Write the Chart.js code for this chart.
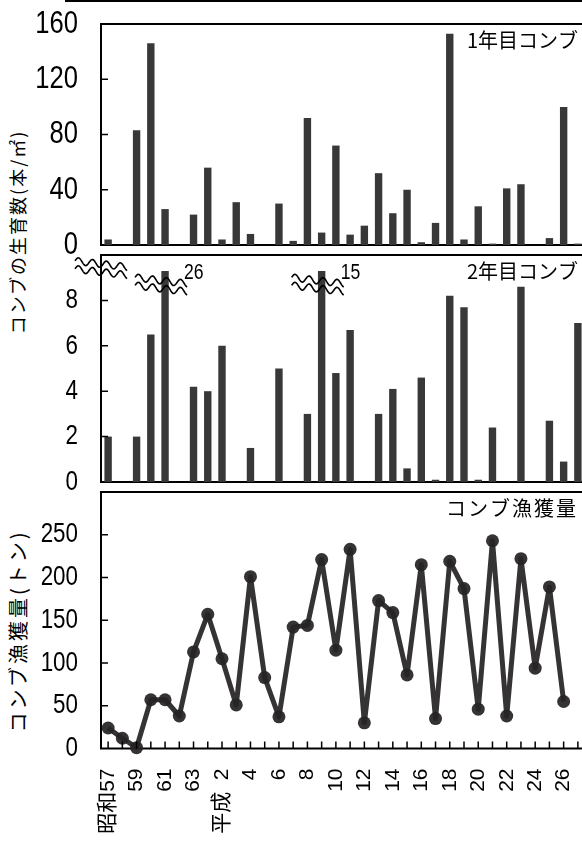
<!DOCTYPE html>
<html lang="ja">
<head>
<meta charset="utf-8">
<title>コンブの生育数と漁獲量</title>
<script src="https://cdn.jsdelivr.net/npm/chart.js@4.4.1/dist/chart.umd.min.js"></script>
<style>
  html, body { margin: 0; padding: 0; background: #fff; }
  body { width: 582px; height: 844px; overflow: hidden; position: relative; font-family: 'Noto Sans CJK JP', sans-serif; }
  .panel { position: absolute; left: 0; width: 600px; }
  .panel canvas { display: block; }
  #topRule { position: absolute; top: 0; left: 65px; width: 540px; height: 2px; background: #000; }
  .axis-title { position: absolute; white-space: nowrap; color: #000; transform: translate(-50%, -50%) rotate(-90deg); }
</style>
</head>
<body>
<div id="topRule"></div>
<div class="axis-title" style="left:17px;top:232px;font-size:18px;letter-spacing:2px">コンブの生育数(本/㎡)</div>
<div class="axis-title" style="left:17px;top:631px;font-size:20px;letter-spacing:3px">コンブ漁獲量(トン)</div>
<div class="panel" style="top:0"><canvas id="firstYearChart" width="600" height="265"></canvas></div>
<div class="panel" style="top:238px"><canvas id="secondYearChart" width="600" height="260"></canvas></div>
<div class="panel" style="top:472px"><canvas id="catchChart" width="600" height="372"></canvas></div>
<script>
// 昭和57年 (1982) から 平成27年 (2015) まで
const yearLabels = ['昭和57', '58', '59', '60', '61', '62', '63', '元', '平成  2', '3', '4', '5', '6', '7', '8', '9',
    '10', '11', '12', '13', '14', '15', '16', '17', '18', '19', '20', '21', '22', '23', '24', '25', '26', '27'];

// 1年目コンブ (本/㎡), null = 調査なし
const firstYear = [4, null, 83, 146, 26, null, 22, 56, 4, 31, 8, null, 30, 3, 92, 9,
    72, 7.5, 14, 52, 23, 40, 2, 16, 153, 4, 28, 1, 41, 44, null, 5, 100, 1];

// 2年目コンブ (本/㎡)
const secondYear = [2.0, null, 2.0, 6.5, 26, null, 4.2, 4.0, 6.0, null, 1.5, null, 5.0, null, 3.0, 15,
    4.8, 6.7, null, 3.0, 4.1, 0.6, 4.6, 0.1, 8.2, 7.7, 0.1, 2.4, null, 8.6, null, 2.7, 0.9, 7.0];

// コンブ漁獲量 (トン)
const catchTons = [24, 12, 1, 57, 57, 38, 113, 157, 105, 51, 201, 83, 37, 142, 144, 221,
    115, 233, 30, 173, 159, 86, 215, 35, 219, 187, 46, 243, 38, 222, 94, 189, 55, null];

const barColor = '#383838';
const lineColor = 'rgba(38, 35, 35, 0.93)';
const numberFont = "'Liberation Sans', Arial, sans-serif";
const labelFont = "'Noto Sans CJK JP', sans-serif";

Chart.defaults.color = '#000';
Chart.defaults.font.family = numberFont;
Chart.defaults.animation = false;

// box around the plot area
const framePlugin = {
    id: 'frame',
    beforeDatasetsDraw(chart) {
        const { ctx, chartArea: a } = chart;
        ctx.save();
        ctx.strokeStyle = '#000';
        ctx.lineWidth = 2;
        ctx.strokeRect(a.left, a.top, a.right - a.left, a.bottom - a.top);
        ctx.restore();
    }
};

// tick marks that point into the plot
const innerTicksPlugin = {
    id: 'innerTicks',
    afterDraw(chart, args, opts) {
        const { ctx, chartArea: a, scales } = chart;
        ctx.save();
        ctx.strokeStyle = '#000';
        ctx.lineWidth = 1.5;
        ctx.beginPath();
        scales.y.ticks.forEach(t => {
            if (t.value <= scales.y.min || t.value >= scales.y.max) return;
            const y = scales.y.getPixelForValue(t.value);
            ctx.moveTo(a.left, y);
            ctx.lineTo(a.left + 7, y);
        });
        if (opts.xTicks) {
            scales.x.ticks.forEach((t, i) => {
                const x = scales.x.getPixelForTick(i);
                ctx.moveTo(x, a.bottom);
                ctx.lineTo(x, a.bottom - 7);
            });
        }
        ctx.stroke();
        ctx.restore();
    }
};

// narrow text: squeeze horizontally around the anchor point
function narrowText(ctx, text, x, y, size, align) {
    ctx.save();
    ctx.font = size + 'px ' + numberFont;
    ctx.fillStyle = '#000';
    ctx.textAlign = align;
    ctx.textBaseline = 'middle';
    ctx.translate(x, y);
    ctx.scale(0.8, 1);
    ctx.fillText(text, 0, 0);
    ctx.restore();
}

// y tick labels in a condensed face, taken from the scale's own ticks
const yLabelsPlugin = {
    id: 'yLabels',
    afterDraw(chart, args, opts) {
        const { ctx, chartArea: a, scales } = chart;
        scales.y.ticks.forEach(t => {
            if (t.value > opts.last) return;
            narrowText(ctx, String(t.value), a.left - 23, scales.y.getPixelForValue(t.value), opts.size, 'right');
        });
    }
};

// series name in the upper right corner
const panelLabelPlugin = {
    id: 'panelLabel',
    afterDraw(chart, args, opts) {
        const { ctx, chartArea: a } = chart;
        ctx.save();
        ctx.font = '20px ' + labelFont;
        ctx.letterSpacing = (opts.spacing || 0) + 'px';
        ctx.fillStyle = '#000';
        ctx.textAlign = 'right';
        ctx.textBaseline = 'middle';
        ctx.fillText(opts.text, a.right - 7, a.top + 16);
        ctx.restore();
    }
};

function wave(ctx, cx, cy, len, amp, period, slope) {
    ctx.beginPath();
    for (let d = 0; d <= len; d++) {
        const x = cx - len / 2 + d;
        const y = cy + slope * (d - len / 2) - amp * Math.sin(d / period * Math.PI * 2);
        if (d === 0) ctx.moveTo(x, y); else ctx.lineTo(x, y);
    }
    ctx.stroke();
}

function breakMark(ctx, cx, cy) {
    ctx.save();
    ctx.strokeStyle = '#000';
    ctx.lineWidth = 1.6;
    wave(ctx, cx, cy - 4, 52, 3.5, 14, 0.12);
    wave(ctx, cx, cy + 4, 52, 3.5, 14, 0.12);
    ctx.restore();
}

// wavy marks for the axis break and for bars that run off the scale
const axisBreakPlugin = {
    id: 'axisBreak',
    afterDraw(chart) {
        const { ctx, chartArea: a, scales } = chart;
        const meta = chart.getDatasetMeta(0);
        const yMax = scales.y.max;
        breakMark(ctx, a.left, a.top + 13);
        secondYear.forEach((v, i) => {
            if (v === null || v <= yMax) return;
            const bar = meta.data[i];
            breakMark(ctx, bar.x - 4, scales.y.getPixelForValue(8.7));
            narrowText(ctx, String(v), bar.x + 19, a.top + 18, 22, 'left');
        });
    }
};

function fixedWidthY(scale) {
    scale.width = 101;
    scale.paddingTop = 0;
    scale.paddingBottom = 0;
}

function valueAxis(max, step) {
    return {
        min: 0,
        max: max,
        afterFit: fixedWidthY,
        border: { display: false },
        grid: { display: false, drawTicks: false },
        ticks: { stepSize: step, display: false }
    };
}

function renderFirstYearChart() {
    const ctx = document.getElementById('firstYearChart').getContext('2d');
    new Chart(ctx, {
        type: 'bar',
        data: {
            labels: yearLabels,
            datasets: [{
                data: firstYear,
                backgroundColor: barColor,
                barPercentage: 0.52,
                categoryPercentage: 1
            }]
        },
        options: {
            responsive: false,
            layout: { padding: { top: 24, bottom: 20, right: 15, left: 0 } },
            plugins: {
                legend: { display: false },
                tooltip: { enabled: false },
                panelLabel: { text: '1年目コンブ' },
                yLabels: { size: 32, last: 160 }
            },
            scales: {
                x: { display: false },
                y: valueAxis(160, 40)
            }
        },
        plugins: [framePlugin, innerTicksPlugin, yLabelsPlugin, panelLabelPlugin]
    });
}

function renderSecondYearChart() {
    const ctx = document.getElementById('secondYearChart').getContext('2d');
    new Chart(ctx, {
        type: 'bar',
        data: {
            labels: yearLabels,
            datasets: [{
                data: secondYear,
                backgroundColor: barColor,
                barPercentage: 0.52,
                categoryPercentage: 1,
                // bars above the scale stop a little under the frame
                clip: { left: 0, top: -16, right: 0, bottom: 0 }
            }]
        },
        options: {
            responsive: false,
            layout: { padding: { top: 17, bottom: 16, right: 15, left: 0 } },
            plugins: {
                legend: { display: false },
                tooltip: { enabled: false },
                panelLabel: { text: '2年目コンブ' },
                yLabels: { size: 28, last: 8 }
            },
            scales: {
                x: { display: false },
                y: valueAxis(10, 2)
            }
        },
        plugins: [framePlugin, innerTicksPlugin, yLabelsPlugin, panelLabelPlugin, axisBreakPlugin]
    });
}

function renderCatchChart() {
    const ctx = document.getElementById('catchChart').getContext('2d');
    new Chart(ctx, {
        type: 'line',
        data: {
            labels: yearLabels,
            datasets: [{
                data: catchTons,
                borderColor: lineColor,
                backgroundColor: lineColor,
                borderWidth: 5,
                borderJoinStyle: 'round',
                pointRadius: 6.5,
                pointBorderWidth: 0,
                pointBackgroundColor: lineColor,
                tension: 0,
                clip: false
            }]
        },
        options: {
            responsive: false,
            layout: { padding: { top: 20, bottom: 0, right: 15, left: 0 } },
            plugins: {
                legend: { display: false },
                tooltip: { enabled: false },
                panelLabel: { text: 'コンブ漁獲量', spacing: 2 },
                innerTicks: { xTicks: true },
                yLabels: { size: 28, last: 250 }
            },
            scales: {
                x: {
                    offset: true,
                    afterFit: scale => {
                        scale.height = 95.5;
                        scale.paddingLeft = 0;
                        scale.paddingRight = 0;
                    },
                    border: { display: false },
                    grid: { display: false, drawTicks: false },
                    ticks: {
                        autoSkip: false,
                        minRotation: 90,
                        maxRotation: 90,
                        padding: 20,
                        font: { size: 21, family: "'Liberation Sans', 'Noto Sans CJK JP', sans-serif" },
                        callback: (value, index) => index % 2 === 0 ? yearLabels[index] : ''
                    }
                },
                y: valueAxis(300, 50)
            }
        },
        plugins: [framePlugin, innerTicksPlugin, yLabelsPlugin, panelLabelPlugin]
    });
}

renderFirstYearChart();
renderSecondYearChart();
renderCatchChart();
</script>
</body>
</html>
